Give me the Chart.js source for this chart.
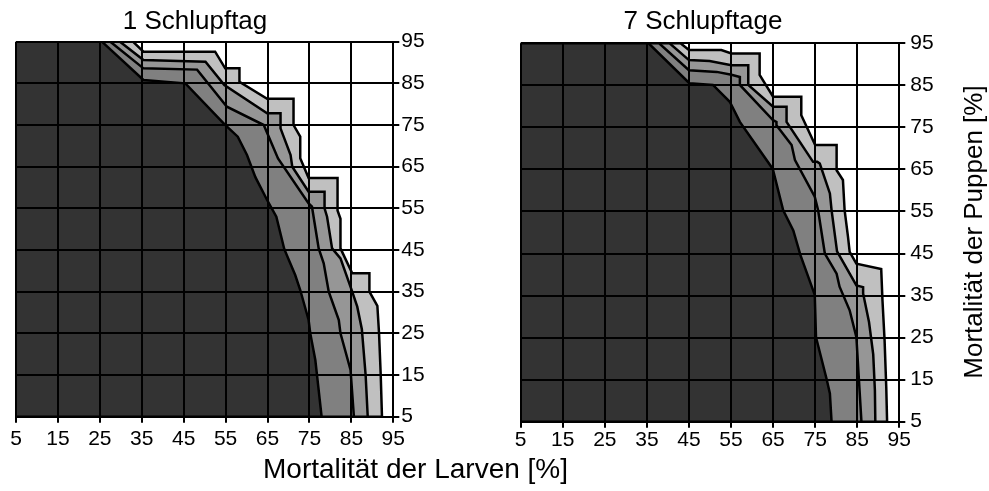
<!DOCTYPE html>
<html>
<head>
<meta charset="utf-8">
<script src="https://cdn.jsdelivr.net/npm/chart.js@4.4.0/dist/chart.umd.min.js"></script>
<style>
  html, body { margin: 0; padding: 0; background: #fff; }
  body { width: 989px; height: 491px; position: relative; overflow: hidden; font-family: "Liberation Sans", Arial, sans-serif; }
  canvas { position: absolute; top: 0; }
  #leftChart { left: 0; }
  #rightChart { left: 470px; }
  #xTitle { position: absolute; left: 263px; top: 455px; font-size: 28px; line-height: 28px; color: #000; white-space: nowrap; }
</style>
</head>
<body>
<canvas id="leftChart" width="450" height="460"></canvas>
<canvas id="rightChart" width="519" height="460"></canvas>
<div id="xTitle">Mortalität der Larven [%]</div>
<script>
const tickValues = [5, 15, 25, 35, 45, 55, 65, 75, 85, 95];
const bandColors = ["#333333", "#808080", "#969696", "#c0c0c0"];

// contour edges as [larval mortality, pupal mortality], running from the top edge down to 5
const day1Dark = [[25.5,95],[35.4,85.8],[45.4,85],[54.7,75.2],[57.9,72.2],[60.1,67.8],[62.1,62.5],[64.9,57],[67.1,53],[69,45.2],[71.6,39],[72.8,35.4],[74.8,28.2],[75.2,25],[76.4,18.6],[77.2,11.4],[77.9,5]];
const day1Mid = [[27.5,95],[35.4,88.6],[48.2,88.3],[55.3,79.4],[64.1,75],[67.5,67],[74.8,56.2],[75.6,55.4],[77.2,45.4],[78.4,41.8],[79.6,35],[82,28.2],[82.4,25],[84.8,16.2],[85.2,10.6],[85.6,5]];
const day1Light = [[29.8,95],[35.4,90.6],[50.2,90.2],[54.7,84.6],[64.9,77.8],[68.1,77.8],[68.1,74.2],[70.5,67.8],[70.9,65],[74.8,59],[78.6,59],[78.6,55],[79.2,53],[80.4,45.4],[82.4,43],[85.2,35],[86.4,31.4],[87.5,26],[88.4,15],[88.9,5]];
const day1Pale = [[32.9,95],[35.4,92.6],[52.5,92.6],[54.9,88.6],[58.3,88.6],[58.3,85.4],[64.9,81.3],[71.2,81.3],[71.2,75],[72.8,72.2],[72.8,67],[74.8,62.3],[81.7,62.3],[81.7,54.5],[82.4,52.5],[82.4,45.4],[85.2,39.4],[89.3,39.4],[89.3,35],[91.2,31.6],[91.6,25],[92,15],[92.3,5]];

const day7Dark = [[35.4,95],[45.1,85.5],[50.7,85.1],[54.7,81.1],[57.1,76.3],[64.6,65.6],[65,64.8],[67.4,55.3],[69.8,50.5],[71.5,44.6],[74.5,36.3],[74.9,35.2],[75.2,25.1],[77.7,15.2],[78.5,11.7],[78.9,5]];
const day7Mid = [[37.9,95],[45,88.6],[51.6,88.2],[55.1,87.5],[57.1,87],[57.1,85.1],[65,76.7],[65.8,76.3],[65.8,75.5],[69.4,70.8],[70.2,67.2],[74.9,58.5],[75.7,55.3],[77.3,45],[80.1,40.2],[80.8,37.1],[83.2,31.5],[84.8,25.1],[85.4,15],[86,5]];
const day7Light = [[40.4,95],[45,91],[49.9,90.8],[55.1,89.8],[59.1,89.8],[59.1,85.1],[65,79.9],[68.2,79.9],[68.2,76.3],[74.5,66.8],[75.5,66.8],[76.1,66.4],[78.5,59.3],[78.9,55.3],[80.2,45.5],[84.8,37.4],[86.4,37],[86.4,35.5],[87.8,28.7],[88.8,21],[89.2,12.5],[89.3,5]];
const day7Pale = [[43,95],[45,93.4],[52.7,93.4],[55.1,92.6],[61.8,92.6],[61.8,87.5],[65,82.3],[71.7,82.3],[71.7,77.9],[75,70.8],[80.1,70.8],[80.1,64.8],[81.6,62.5],[82,55.3],[82.8,49],[83.2,45.4],[84.8,42.6],[90.7,41.3],[91,33.9],[91.5,24.4],[91.9,13.2],[92.1,5]];

const fontFamily = '"Liberation Sans", Arial, sans-serif';

// closes an edge against the left border so it can be filled
function toPolygon(edge) {
    const pts = [{ x: 5, y: 95 }];
    edge.forEach(p => pts.push({ x: p[0], y: p[1] }));
    pts.push({ x: 5, y: 5 });
    return pts;
}

const panelText = {
    id: "panelText",
    afterDraw(chart, args, opts) {
        const ctx = chart.ctx;
        ctx.save();
        ctx.fillStyle = "#000";
        ctx.font = "26px " + fontFamily;
        ctx.textAlign = "center";
        ctx.textBaseline = "alphabetic";
        ctx.fillText(opts.title, opts.titleX, 29);
        if (opts.sideTitle) {
            ctx.translate(opts.sideX, opts.sideY);
            ctx.rotate(-Math.PI / 2);
            ctx.fillText(opts.sideTitle, 0, 0);
        }
        ctx.restore();
    }
};

function axisOptions(position, size, padding) {
    return {
        type: "linear",
        position: position,
        min: 5,
        max: 95,
        afterBuildTicks: s => { s.ticks = tickValues.map(v => ({ value: v })); },
        afterFit: s => {
            if (position === "bottom") s.height = size;
            else s.width = size;
        },
        // grid and border sit above the filled bands
        grid: { color: "#000", lineWidth: 2, tickLength: 6, z: 1 },
        border: { color: "#000", width: 2, z: 1 },
        ticks: {
            color: "#000",
            font: { size: 21, family: fontFamily },
            padding: padding,
            autoSkip: false,
            maxRotation: 0
        }
    };
}

function renderPanel(id, edges, area, text) {
    const ctx = document.getElementById(id);

    const datasets = edges.map((edge, i) => ({
        data: toPolygon(edge),
        showLine: true,
        fill: "shape",
        backgroundColor: bandColors[i],
        borderColor: "#000",
        borderWidth: 2.5,
        pointRadius: 0,
        tension: 0
    }));

    return new Chart(ctx, {
        type: "scatter",
        data: { datasets },
        options: {
            responsive: false,
            animation: false,
            events: [],
            layout: { padding: { left: area.left, top: area.top, right: 0, bottom: 0 } },
            plugins: {
                legend: { display: false },
                tooltip: { enabled: false },
                panelText: text
            },
            scales: {
                x: axisOptions("bottom", area.xHeight, area.xPad),
                y: axisOptions("right", area.yWidth, area.yPad)
            }
        },
        plugins: [panelText]
    });
}

renderPanel("leftChart", [day1Dark, day1Mid, day1Light, day1Pale],
    { left: 16, top: 41.7, xHeight: 43.3, yWidth: 56.7, xPad: 4, yPad: 2 },
    { title: "1 Schlupftag", titleX: 195 });

renderPanel("rightChart", [day7Dark, day7Mid, day7Light, day7Pale],
    { left: 50.7, top: 43.3, xHeight: 38.3, yWidth: 89.7, xPad: 0, yPad: 5 },
    { title: "7 Schlupftage", titleX: 233, sideTitle: "Mortalität der Puppen [%]", sideX: 512, sideY: 232 });
</script>
</body>
</html>
